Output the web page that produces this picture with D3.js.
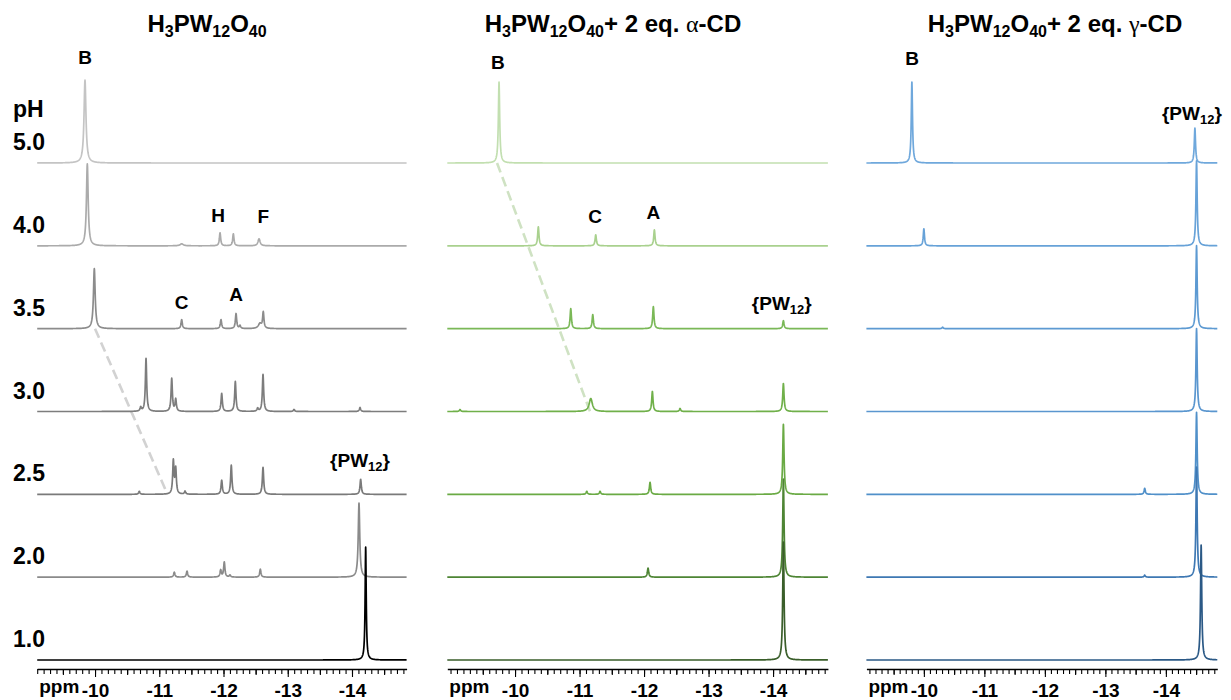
<!DOCTYPE html>
<html>
<head>
<meta charset="utf-8">
<script src="https://cdn.jsdelivr.net/npm/d3@7"></script>
<style>
  html, body { margin: 0; padding: 0; background: #fff; }
  svg { display: block; }
  text { font-family: "Liberation Sans", Arial, Helvetica, sans-serif; font-weight: bold; fill: #000; }
</style>
</head>
<body>
<svg id="chart" width="1231" height="700"></svg>
<script>
// pH of each stacked trace, top to bottom
const phLevels = ["5.0", "4.0", "3.5", "3.0", "2.5", "2.0", "1.0"];

// major chemical-shift ticks (ppm)
const majorTicks = [-10, -11, -12, -13, -14];

// ppm windows shown in the three panels
const freeWindow  = [-9.1, -14.85];
const alphaWindow = [-8.95, -14.85];
const gammaWindow = [-9.05, -14.85];

// 31P peaks per pH: [shift ppm, intensity, half-width ppm (optional)]
const freePeaks = [
  [[-9.844, 83, 0.018]],
  [[-9.880, 82, 0.016], [-11.349, 2, 0.03], [-11.946, 13], [-12.153, 12], [-12.553, 7, 0.02]],
  [[-9.989, 60, 0.016], [-11.349, 9], [-11.961, 9], [-12.195, 15], [-12.257, 3], [-12.568, 5, 0.03], [-12.619, 16]],
  [[-10.711, 4], [-10.794, 53], [-11.194, 33], [-11.256, 12], [-11.972, 18], [-12.184, 30], [-12.532, 3], [-12.615, 37], [-13.097, 2], [-14.125, 4]],
  [[-10.689, 3], [-11.219, 33], [-11.256, 25], [-11.401, 3], [-11.972, 14], [-12.121, 29], [-12.615, 27], [-14.135, 15]],
  [[-11.234, 5], [-11.432, 6], [-11.956, 7], [-12.012, 15], [-12.101, 2], [-12.573, 8], [-14.109, 74, 0.014]],
  [[-14.213, 113, 0.01]]
];

const alphaPeaks = [
  [[-9.752, 81, 0.012]],
  [[-10.361, 19], [-11.251, 11], [-12.160, 16]],
  [[-10.864, 20], [-11.205, 14], [-12.144, 22], [-14.160, 8]],
  [[-9.147, 2], [-11.174, 13, 0.03], [-12.129, 20], [-12.558, 3], [-14.160, 28]],
  [[-11.112, 3], [-11.318, 3], [-12.093, 12], [-14.160, 70]],
  [[-12.062, 9], [-14.160, 98]],
  [[-14.160, 118]]
];

const gammaPeaks = [
  [[-9.802, 81], [-14.480, 35]],
  [[-10.000, 17], [-14.507, 85]],
  [[-10.310, 1.5], [-14.507, 83]],
  [[-14.507, 83]],
  [[-13.650, 6], [-14.507, 82]],
  [[-13.650, 2], [-14.507, 110]],
  [[-14.583, 115]]
];

// trace colours, top to bottom
const freeColors  = ["#c4c4c4", "#ababab", "#8c8c8c", "#7d7d7d", "#7a7a7a", "#8a8a8a", "#000000"];
const alphaColors = ["#c2dfb0", "#a9d18e", "#7ab857", "#70b04a", "#6aaa44", "#4e8534", "#3a5e2a"];
const gammaColors = ["#6fa8dc", "#67a2d8", "#5d9ad2", "#5a96cf", "#5090c9", "#3e78b3", "#2b5986"];

// peak assignments: [text, subscript, ppm, pH row, lift above baseline]
const freeLabels  = [["B", "", -9.844, "5.0", 99], ["H", "", -11.918, "4.0", 24], ["F", "", -12.618, "4.0", 23],
                     ["C", "", -11.349, "3.5", 20], ["A", "", -12.195, "3.5", 28], ["{PW", "12", -14.125, "2.5", 27]];
const alphaLabels = [["B", "", -9.732, "5.0", 94], ["C", "", -11.240, "4.0", 23], ["A", "", -12.144, "4.0", 27],
                     ["{PW", "12", -14.135, "3.5", 19]];
const gammaLabels = [["B", "", -9.807, "5.0", 98], ["{PW", "12", -14.430, "5.0", 43]];

// dashed guides following the shifting B signal: [ppm, pH row]
const freeTrend  = [[-10.0, "3.5"], [-11.128, "2.5"]];
const alphaTrend = [[-9.721, "5.0"], [-11.163, "3.0"]];

const titleSuffix = ["", "\u03b1", "\u03b3"];

const svg = d3.select("#chart");

const rowY = d3.scalePoint().domain(phLevels).range([163, 660]);
const amp = d3.scaleLinear().domain([0, 100]).range([0, 100]);
const axisY = 669;

// pH column labels
svg.append("text").attr("x", 13).attr("y", 117).attr("font-size", 23).text("pH");
svg.selectAll("text.ph").data(phLevels).join("text")
  .attr("class", "ph")
  .attr("x", 13).attr("y", d => rowY(d) - 13)
  .attr("font-size", 23)
  .text(d => d);

const panels = [
  { win: freeWindow,  range: [37.2, 406.6],   peaks: freePeaks,  colors: freeColors,  labels: freeLabels,  trend: freeTrend,  trendColor: "#d2d2d2", titleX: 207,  suffix: titleSuffix[0] },
  { win: alphaWindow, range: [447.3, 827.9],  peaks: alphaPeaks, colors: alphaColors, labels: alphaLabels, trend: alphaTrend, trendColor: "#cfe2c3", titleX: 613,  suffix: titleSuffix[1] },
  { win: gammaWindow, range: [866.4, 1217.3], peaks: gammaPeaks, colors: gammaColors, labels: gammaLabels, trend: null,       trendColor: null,      titleX: 1055, suffix: titleSuffix[2] }
];

function lorentz(x, peaks) {
  let s = 0;
  for (const p of peaks) {
    const w = p[2] || 0.012;
    const u = (x - p[0]) / w;
    s += p[1] / (1 + u * u);
  }
  return s;
}

panels.forEach(P => {
  const g = svg.append("g");
  const x = d3.scaleLinear().domain(P.win).range(P.range);

  // title
  const t = g.append("text").attr("x", P.titleX).attr("y", 32)
    .attr("text-anchor", "middle").attr("font-size", 24);
  t.append("tspan").text("H");
  t.append("tspan").attr("font-size", 16).attr("dy", 5).text("3");
  t.append("tspan").attr("dy", -5).text("PW");
  t.append("tspan").attr("font-size", 16).attr("dy", 5).text("12");
  t.append("tspan").attr("dy", -5).text("O");
  t.append("tspan").attr("font-size", 16).attr("dy", 5).text("40");
  if (P.suffix) {
    t.append("tspan").attr("dy", -5).text("+ 2 eq. ");
    t.append("tspan").attr("font-family", "Liberation Serif, serif").attr("font-weight", "normal").text(P.suffix);
    t.append("tspan").text("-CD");
  }

  // dashed guide
  if (P.trend) {
    g.append("path")
      .attr("d", d3.line().x(d => x(d[0])).y(d => rowY(d[1]))(P.trend))
      .attr("fill", "none").attr("stroke", P.trendColor)
      .attr("stroke-width", 2.6).attr("stroke-dasharray", "10,5");
  }

  // spectra, drawn top to bottom
  const step = 0.003;
  phLevels.forEach((ph, i) => {
    const pk = P.peaks[i];
    let xs = d3.range(P.win[0], P.win[1], -step);
    xs.push(P.win[1]);
    pk.forEach(p => xs.push(p[0]));
    xs.sort((a, b) => b - a);
    const pts = xs.map(v => [v, lorentz(v, pk)]);
    g.append("path")
      .attr("d", d3.line().x(d => x(d[0])).y(d => rowY(ph) - amp(d[1]))(pts))
      .attr("fill", "none")
      .attr("stroke", P.colors[i])
      .attr("stroke-width", 1.7)
      .attr("stroke-linejoin", "round");
  });

  // peak labels
  P.labels.forEach(L => {
    const lt = g.append("text")
      .attr("x", x(L[2])).attr("y", rowY(L[3]) - L[4])
      .attr("text-anchor", "middle").attr("font-size", 19);
    lt.append("tspan").text(L[0]);
    if (L[1]) {
      lt.append("tspan").attr("font-size", 13).attr("dy", 4).text(L[1]);
      lt.append("tspan").attr("dy", -4).text("}");
    }
  });

  // ppm axis: minor, half and major ticks
  const minor = d3.range(Math.ceil(-P.win[0] * 10), Math.floor(-P.win[1] * 10) + 1).map(v => -v / 10);
  const half = minor.filter(v => Math.abs(v * 10) % 10 === 5);
  const ax = g.append("g").attr("transform", `translate(0,${axisY})`);
  ax.call(d3.axisBottom(x).tickValues(minor).tickSize(5).tickSizeOuter(0).tickFormat(""));
  ax.append("g").call(d3.axisBottom(x).tickValues(half).tickSize(6).tickSizeOuter(0).tickFormat(""))
    .select(".domain").remove();
  const maj = ax.append("g").call(d3.axisBottom(x).tickValues(majorTicks).tickSize(8).tickSizeOuter(0).tickFormat(d => String(d)));
  maj.select(".domain").remove();
  ax.selectAll(".domain").attr("stroke", "#000").attr("stroke-width", 1.4);
  ax.selectAll(".tick line").attr("stroke", "#000").attr("stroke-width", 1.1);
  maj.attr("font-size", null).attr("font-family", null);
  maj.selectAll("text").attr("y", 15).attr("dy", "0.71em")
    .attr("font-size", 19).attr("font-weight", "bold").attr("fill", "#000");

  g.append("text").attr("x", P.range[0] + 2).attr("y", 693).attr("font-size", 19).text("ppm");
});
</script>
</body>
</html>
